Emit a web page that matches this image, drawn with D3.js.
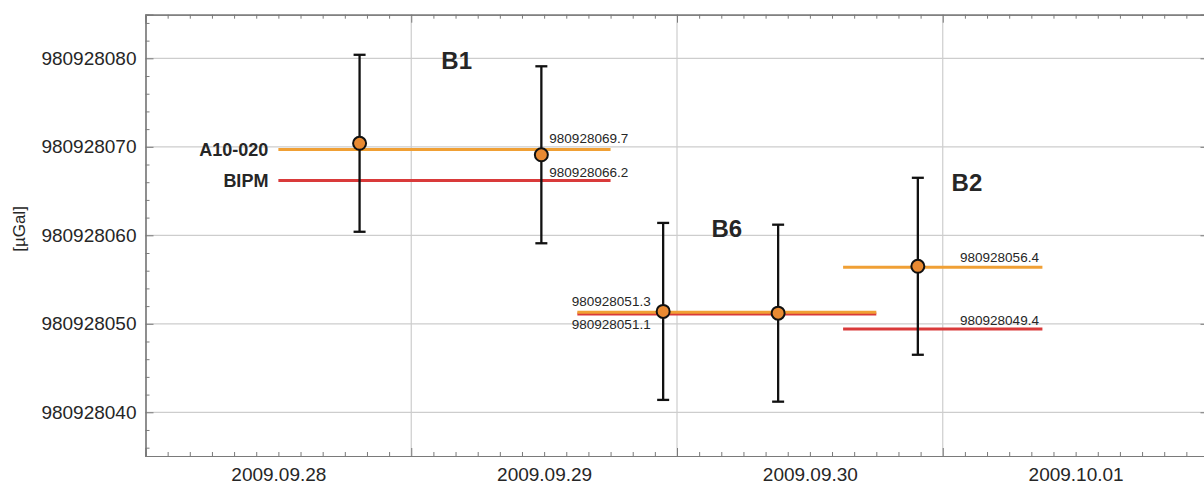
<!DOCTYPE html>
<html>
<head>
<meta charset="utf-8">
<script src="https://cdn.jsdelivr.net/npm/d3@7"></script>
<style>
  html, body { margin: 0; padding: 0; background: #fff; }
  svg { display: block; font-family: "Liberation Sans", Arial, sans-serif; }
</style>
</head>
<body>
<svg id="chart" width="1204" height="484"></svg>
<script>
// ---- data ----
const pointTimes = ["2009-09-28T19:20", "2009-09-29T11:45", "2009-09-29T22:45", "2009-09-30T09:08", "2009-09-30T21:45"];
const pointValues = [980928070.4, 980928069.1, 980928051.4, 980928051.2, 980928056.5];
const pointErrors = [10.0, 10.0, 10.0, 10.0, 10.0];

const sites = ["B1", "B6", "B2"];
const siteStart = ["2009-09-28T12:00", "2009-09-29T15:00", "2009-09-30T15:00"];
const siteEnd = ["2009-09-29T18:00", "2009-09-30T18:00", "2009-10-01T09:00"];
const a10Values = [980928069.7, 980928051.3, 980928056.4];
const bipmValues = [980928066.2, 980928051.1, 980928049.4];

const xTickLabels = ["2009-09-28T12:00", "2009-09-29T12:00", "2009-09-30T12:00", "2009-10-01T12:00"];
const xGridDays = ["2009-09-29T00:00", "2009-09-30T00:00", "2009-10-01T00:00"];
const yTickValues = [980928040, 980928050, 980928060, 980928070, 980928080];
const seriesNames = ["A10-020", "BIPM"];

// site name label anchors (data coordinates)
const siteLabelTimes = ["2009-09-29T02:43", "2009-09-30T03:07", "2009-10-01T00:48"];
const siteLabelValues = [980928078.8, 980928059.8, 980928065.0];

// ---- setup ----
const parse = d3.utcParse("%Y-%m-%dT%H:%M");
const svg = d3.select("#chart");
const x = d3.scaleUtc()
  .domain([parse("2009-09-28T00:00"), parse("2009-10-02T00:00")])
  .range([145.5, 1208.5]);
const y = d3.scaleLinear()
  .domain([980928035.06, 980928084.93])
  .range([456, 14.7]);

const L = 145.5, R = 1208.5, T = 14.7, B = 456;
const axisColor = "#7a7a7a";
const gridColor = "#cdcdcd";
const textColor = "#262626";
const orange = "#f0a035";
const red = "#d93a3a";
const dotFill = "#e98a32";

// gridlines
svg.append("g").selectAll("line.hg").data(yTickValues).join("line")
  .attr("x1", L).attr("x2", R)
  .attr("y1", d => y(d)).attr("y2", d => y(d))
  .attr("stroke", gridColor).attr("stroke-width", 1.2);
svg.append("g").selectAll("line.vg").data(xGridDays.map(parse)).join("line")
  .attr("x1", d => x(d)).attr("x2", d => x(d))
  .attr("y1", T).attr("y2", B)
  .attr("stroke", gridColor).attr("stroke-width", 1.2);

// minor/major ticks
const hours2 = d3.utcHour.every(2).range(parse("2009-09-28T02:00"), parse("2009-10-02T00:00"))
  .filter(d => d.getUTCHours() !== 0);
const days = d3.utcDay.range(parse("2009-09-28T00:00"), parse("2009-10-02T00:01"));
const ys2 = d3.range(980928036, 980928085, 2).filter(v => v % 10 !== 0);

function styleAxis(g) {
  g.select(".domain").attr("stroke", axisColor).attr("stroke-width", 1.2);
  g.selectAll(".tick line").attr("stroke", axisColor).attr("stroke-width", 1);
  g.selectAll(".tick text").attr("fill", textColor);
}

// bottom
svg.append("g").attr("transform", `translate(0,${B})`)
  .call(d3.axisBottom(x).tickValues(hours2).tickSize(-4).tickFormat("")).call(styleAxis);
svg.append("g").attr("transform", `translate(0,${B})`)
  .call(d3.axisBottom(x).tickValues(days).tickSize(-8).tickFormat("")).call(styleAxis);
svg.append("g").attr("transform", `translate(0,${B})`)
  .call(d3.axisBottom(x).tickValues(xTickLabels.map(parse)).tickSize(0).tickPadding(12)
    .tickFormat(d3.utcFormat("%Y.%m.%d")))
  .call(styleAxis)
  .call(g => g.select(".domain").remove())
  .call(g => g.selectAll("text").attr("font-size", 19));

// top
svg.append("g").attr("transform", `translate(0,${T})`)
  .call(d3.axisTop(x).tickValues(hours2).tickSize(-4).tickFormat("")).call(styleAxis);
svg.append("g").attr("transform", `translate(0,${T})`)
  .call(d3.axisTop(x).tickValues(days).tickSize(-8).tickFormat("")).call(styleAxis);

// left
svg.append("g").attr("transform", `translate(${L},0)`)
  .call(d3.axisLeft(y).tickValues(ys2).tickSize(-4).tickFormat("")).call(styleAxis);
svg.append("g").attr("transform", `translate(${L},0)`)
  .call(d3.axisLeft(y).tickValues(yTickValues).tickSize(-8).tickPadding(9).tickFormat(d3.format("d")))
  .call(styleAxis)
  .call(g => g.selectAll("text").attr("font-size", 19));

// right
svg.append("g").attr("transform", `translate(${R},0)`)
  .call(d3.axisRight(y).tickValues(ys2).tickSize(-4).tickFormat("")).call(styleAxis);
svg.append("g").attr("transform", `translate(${R},0)`)
  .call(d3.axisRight(y).tickValues(yTickValues).tickSize(-8).tickFormat("")).call(styleAxis);

// y title
svg.append("text")
  .attr("transform", `translate(25,229) rotate(-90)`)
  .attr("text-anchor", "middle")
  .attr("font-size", 17).attr("fill", textColor)
  .text("[µGal]");

// reference lines
const siteData = sites.map((s, i) => ({
  site: s, t0: parse(siteStart[i]), t1: parse(siteEnd[i]), a10: a10Values[i], bipm: bipmValues[i]
}));
svg.append("g").selectAll("line").data(siteData).join("line")
  .attr("x1", d => x(d.t0)).attr("x2", d => x(d.t1))
  .attr("y1", d => y(d.bipm)).attr("y2", d => y(d.bipm))
  .attr("stroke", red).attr("stroke-width", 3);
svg.append("g").selectAll("line").data(siteData).join("line")
  .attr("x1", d => x(d.t0)).attr("x2", d => x(d.t1))
  .attr("y1", d => y(d.a10)).attr("y2", d => y(d.a10))
  .attr("stroke", orange).attr("stroke-width", 3);

// series name labels at the first line
const fmt1 = d3.format(".1f");
svg.append("g").selectAll("text").data([siteData[0].a10, siteData[0].bipm]).join("text")
  .attr("x", x(siteData[0].t0) - 10)
  .attr("y", d => y(d))
  .attr("dy", "0.35em")
  .attr("text-anchor", "end")
  .attr("font-size", 18).attr("font-weight", "bold").attr("fill", textColor)
  .text((d, i) => seriesNames[i]);

// value labels
const valueLabels = [
  { v: siteData[0].a10, x: x(parse(pointTimes[1])) + 8, y: y(siteData[0].a10) - 6, anchor: "start" },
  { v: siteData[0].bipm, x: x(parse(pointTimes[1])) + 8, y: y(siteData[0].bipm) - 3, anchor: "start" },
  { v: siteData[1].a10, x: x(parse(pointTimes[2])) - 12.5, y: y(siteData[1].a10) - 6, anchor: "end" },
  { v: siteData[1].bipm, x: x(parse(pointTimes[2])) - 12.5, y: y(siteData[1].bipm) + 14.5, anchor: "end" },
  { v: siteData[2].a10, x: x(siteData[2].t1) - 3.5, y: y(siteData[2].a10) - 5, anchor: "end" },
  { v: siteData[2].bipm, x: x(siteData[2].t1) - 3.5, y: y(siteData[2].bipm) - 4, anchor: "end" }
];
svg.append("g").selectAll("text").data(valueLabels).join("text")
  .attr("x", d => d.x).attr("y", d => d.y)
  .attr("text-anchor", d => d.anchor)
  .attr("font-size", 13.5).attr("fill", textColor)
  .text(d => fmt1(d.v));

// site labels
svg.append("g").selectAll("text").data(sites).join("text")
  .attr("x", (d, i) => x(parse(siteLabelTimes[i])))
  .attr("y", (d, i) => y(siteLabelValues[i]))
  .attr("font-size", 24).attr("font-weight", "bold").attr("fill", textColor)
  .text(d => d);

// error bars and points
const pts = pointTimes.map((t, i) => ({ t: parse(t), v: pointValues[i], e: pointErrors[i] }));
const eg = svg.append("g").attr("stroke", "#111").attr("stroke-width", 2.3);
eg.selectAll("line.bar").data(pts).join("line")
  .attr("x1", d => x(d.t)).attr("x2", d => x(d.t))
  .attr("y1", d => y(d.v - d.e)).attr("y2", d => y(d.v + d.e));
eg.selectAll("line.capT").data(pts).join("line")
  .attr("x1", d => x(d.t) - 6).attr("x2", d => x(d.t) + 6)
  .attr("y1", d => y(d.v + d.e)).attr("y2", d => y(d.v + d.e));
eg.selectAll("line.capB").data(pts).join("line")
  .attr("x1", d => x(d.t) - 6).attr("x2", d => x(d.t) + 6)
  .attr("y1", d => y(d.v - d.e)).attr("y2", d => y(d.v - d.e));
svg.append("g").selectAll("circle").data(pts).join("circle")
  .attr("cx", d => x(d.t)).attr("cy", d => y(d.v))
  .attr("r", 6.5)
  .attr("fill", dotFill).attr("stroke", "#111").attr("stroke-width", 2);
</script>
</body>
</html>
